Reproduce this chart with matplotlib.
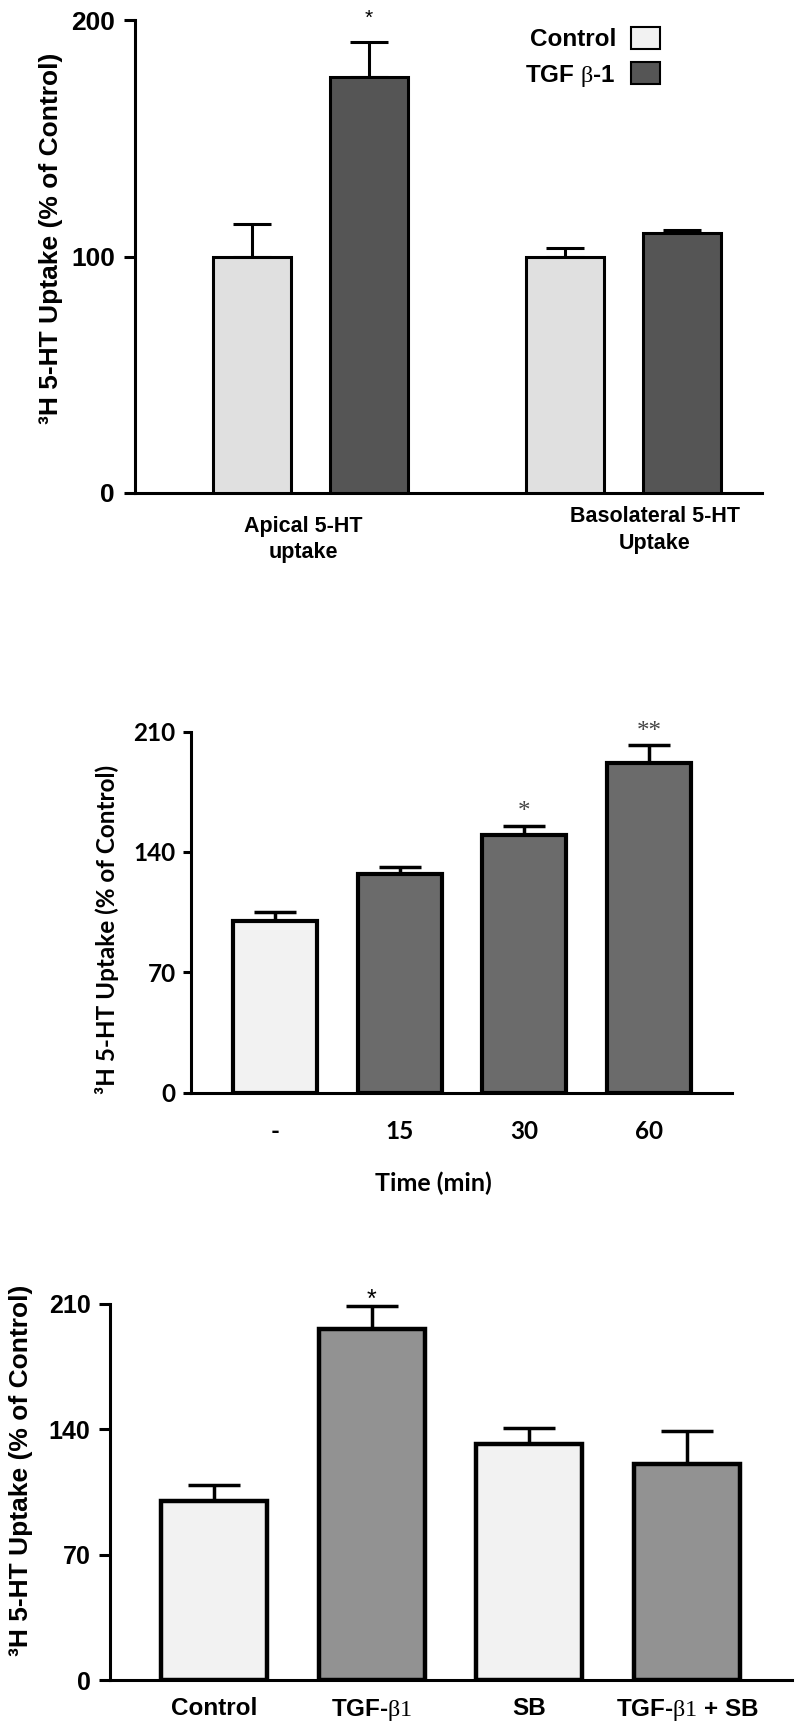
import matplotlib.pyplot as plt
import numpy as np

# beta signs in the original are set in a serif face
plt.rcParams['mathtext.fontset'] = 'custom'
plt.rcParams['mathtext.rm'] = 'Liberation Serif'
plt.rcParams['mathtext.it'] = 'Liberation Serif:italic'
plt.rcParams['mathtext.bf'] = 'Liberation Serif:bold'

# Panel A: apical vs basolateral uptake
groups_a = ['Apical 5-HT\nuptake', 'Basolateral 5-HT\nUptake']
series_a = ['Control', r'TGF $\mathrm{\beta}$-1']
control_a = [100, 100]
control_a_err = [14, 3.5]
tgf_a = [176, 110]
tgf_a_err = [15, 1.2]
stars_a = ['*', '']

# Panel B: time course
times_b = ['-', '15', '30', '60']
uptake_b = [100, 127, 150, 192]
uptake_b_err = [5, 4, 5, 10]
stars_b = ['', '', '*', '**']

# Panel C: SB inhibitor
treat_c = ['Control', r'TGF-$\mathrm{\beta1}$', 'SB', r'TGF-$\mathrm{\beta1}$ + SB']
uptake_c = [100, 196, 132, 120.5]
uptake_c_err = [9, 13, 8.5, 18.5]
stars_c = ['', '*', '', '']

W, H = 800, 1732
ARIAL = ['Liberation Sans', 'DejaVu Sans']
NARROW = ['Liberation Sans Narrow', 'Liberation Sans', 'DejaVu Sans']
CALIBRI = ['Lato', 'DejaVu Sans']
YLAB = '³H 5-HT Uptake (% of Control)'


def px_axes(fig, left, top, right, bottom):
    return fig.add_axes([left / W, 1 - bottom / H, (right - left) / W, (bottom - top) / H])


def style_axes(ax, lw, ticklen, pad, family, size):
    for s in ['top', 'right']:
        ax.spines[s].set_visible(False)
    for s in ['left', 'bottom']:
        ax.spines[s].set_linewidth(lw)
    ax.tick_params(axis='y', length=ticklen, width=lw, pad=pad)
    ax.tick_params(axis='x', length=0)
    for t in ax.get_yticklabels():
        t.set_family(family)
        t.set_fontsize(size)
        t.set_fontweight('bold')


fig = plt.figure(figsize=(W / 100, H / 100), dpi=100)

# ---------------- Panel A ----------------
ax1 = px_axes(fig, 135, 20.4, 762, 492.9)
x = np.arange(len(groups_a))
off, w = 0.1868, 0.249
ax1.bar(x - off, control_a, w, color='#e0e0e0', edgecolor='black', lw=2.2, zorder=3, label=series_a[0])
ax1.bar(x + off, tgf_a, w, color='#555555', edgecolor='black', lw=2.2, zorder=3, label=series_a[1])
ax1.errorbar(x - off, control_a, yerr=[np.zeros(2), control_a_err], fmt='none',
             ecolor='black', elinewidth=2.2, capsize=14, capthick=2.2, zorder=2)
ax1.errorbar(x + off, tgf_a, yerr=[np.zeros(2), tgf_a_err], fmt='none',
             ecolor='black', elinewidth=2.2, capsize=14, capthick=2.2, zorder=2)
for i, s in enumerate(stars_a):
    if s:
        ax1.annotate(s, (x[i] + off, tgf_a[i] + tgf_a_err[i]), xytext=(0, 17),
                     textcoords='offset points', ha='center', va='center',
                     fontsize=15, family=ARIAL, annotation_clip=False)
ax1.set_xlim(-0.5603, 1.4413)
ax1.set_ylim(0, 200)
ax1.set_yticks([0, 100, 200])
ax1.set_xticks([])
style_axes(ax1, 2.2, 8, 6.5, ARIAL, 19)
# group labels sit a bit off-centre in the original
label_x = [-0.024, 1.0998]
label_drop = [-16.5, -9.5]
for i, g in enumerate(groups_a):
    ax1.annotate(g, (label_x[i], 0), xycoords=('data', 'axes fraction'),
                 xytext=(0, label_drop[i]), textcoords='offset points',
                 ha='center', va='top', family=ARIAL, fontsize=15.5,
                 fontweight='bold', linespacing=1.35, annotation_clip=False)
leg = ax1.legend(loc='upper right', bbox_to_anchor=(0.8565, 1.011), frameon=False,
                 markerfirst=False, borderpad=0, handlelength=1.19, handleheight=0.99,
                 handletextpad=0.62, labelspacing=0.45,
                 prop={'family': NARROW, 'size': 17.5, 'weight': 'bold'})
leg.get_patches()[0].set_facecolor('#f2f2f2')
for p in leg.get_patches():
    p.set_linewidth(1.5)
fig.text(51 / W, 1 - 238 / H, YLAB, rotation=90, ha='center', va='center',
         family=ARIAL, fontsize=19, fontweight='bold')

# ---------------- Panel B ----------------
ax2 = px_axes(fig, 191, 731.7, 732, 1092.5)
xb = np.arange(len(times_b))
colors_b = ['#f2f2f2'] + ['#6b6b6b'] * 3
ax2.bar(xb, uptake_b, 0.674, color=colors_b, edgecolor='black', lw=3, zorder=3)
ax2.errorbar(xb, uptake_b, yerr=[np.zeros(len(xb)), uptake_b_err], fmt='none',
             ecolor='black', elinewidth=2.5, capsize=14.8, capthick=2.5, zorder=2)
for i, s in enumerate(stars_b):
    if s:
        ax2.annotate(s, (xb[i], uptake_b[i] + uptake_b_err[i]), xytext=(0, 10),
                     textcoords='offset points', ha='center', va='center',
                     fontsize=18, family=['Liberation Serif'], color='#444444',
                     annotation_clip=False)
ax2.set_xlim(-0.674, 3.665)
ax2.set_ylim(0, 210)
ax2.set_yticks([0, 70, 140, 210])
ax2.set_xticks(xb)
ax2.set_xticklabels(times_b, family=CALIBRI, fontsize=17.5, fontweight='bold')
style_axes(ax2, 2.2, 6, 5, CALIBRI, 17.5)
ax2.tick_params(axis='x', pad=20)
fig.text(433 / W, 1 - 1172 / H, 'Time (min)', ha='center', va='top',
         family=CALIBRI, fontsize=18, fontweight='bold')
fig.text(107 / W, 1 - 929 / H, YLAB, rotation=90, ha='center', va='center',
         family=CALIBRI, fontsize=17.5, fontweight='bold')

# ---------------- Panel C ----------------
ax3 = px_axes(fig, 110, 1303.9, 792, 1680.3)
xc = np.arange(len(treat_c))
colors_c = ['#f2f2f2', '#929292', '#f2f2f2', '#929292']
ax3.bar(xc, uptake_c, 0.672, color=colors_c, edgecolor='black', lw=3.2, zorder=3)
ax3.errorbar(xc, uptake_c, yerr=[np.zeros(len(xc)), uptake_c_err], fmt='none',
             ecolor='black', elinewidth=2.5, capsize=18.7, capthick=2.5, zorder=2)
for i, s in enumerate(stars_c):
    if s:
        ax3.annotate(s, (xc[i], uptake_c[i] + uptake_c_err[i]), xytext=(0, 4),
                     textcoords='offset points', ha='center', va='center',
                     fontsize=18, family=ARIAL, annotation_clip=False)
ax3.set_xlim(-0.659, 3.665)
ax3.set_ylim(0, 210)
ax3.set_yticks([0, 70, 140, 210])
ax3.set_xticks(xc)
ax3.set_xticklabels(treat_c, family=ARIAL, fontsize=17.5, fontweight='bold')
style_axes(ax3, 2.2, 8, 6, ARIAL, 18)
ax3.tick_params(axis='x', pad=12)
fig.text(21 / W, 1 - 1470 / H, YLAB, rotation=90, ha='center', va='center',
         family=ARIAL, fontsize=19, fontweight='bold')

fig.savefig('out.png', dpi=100)
